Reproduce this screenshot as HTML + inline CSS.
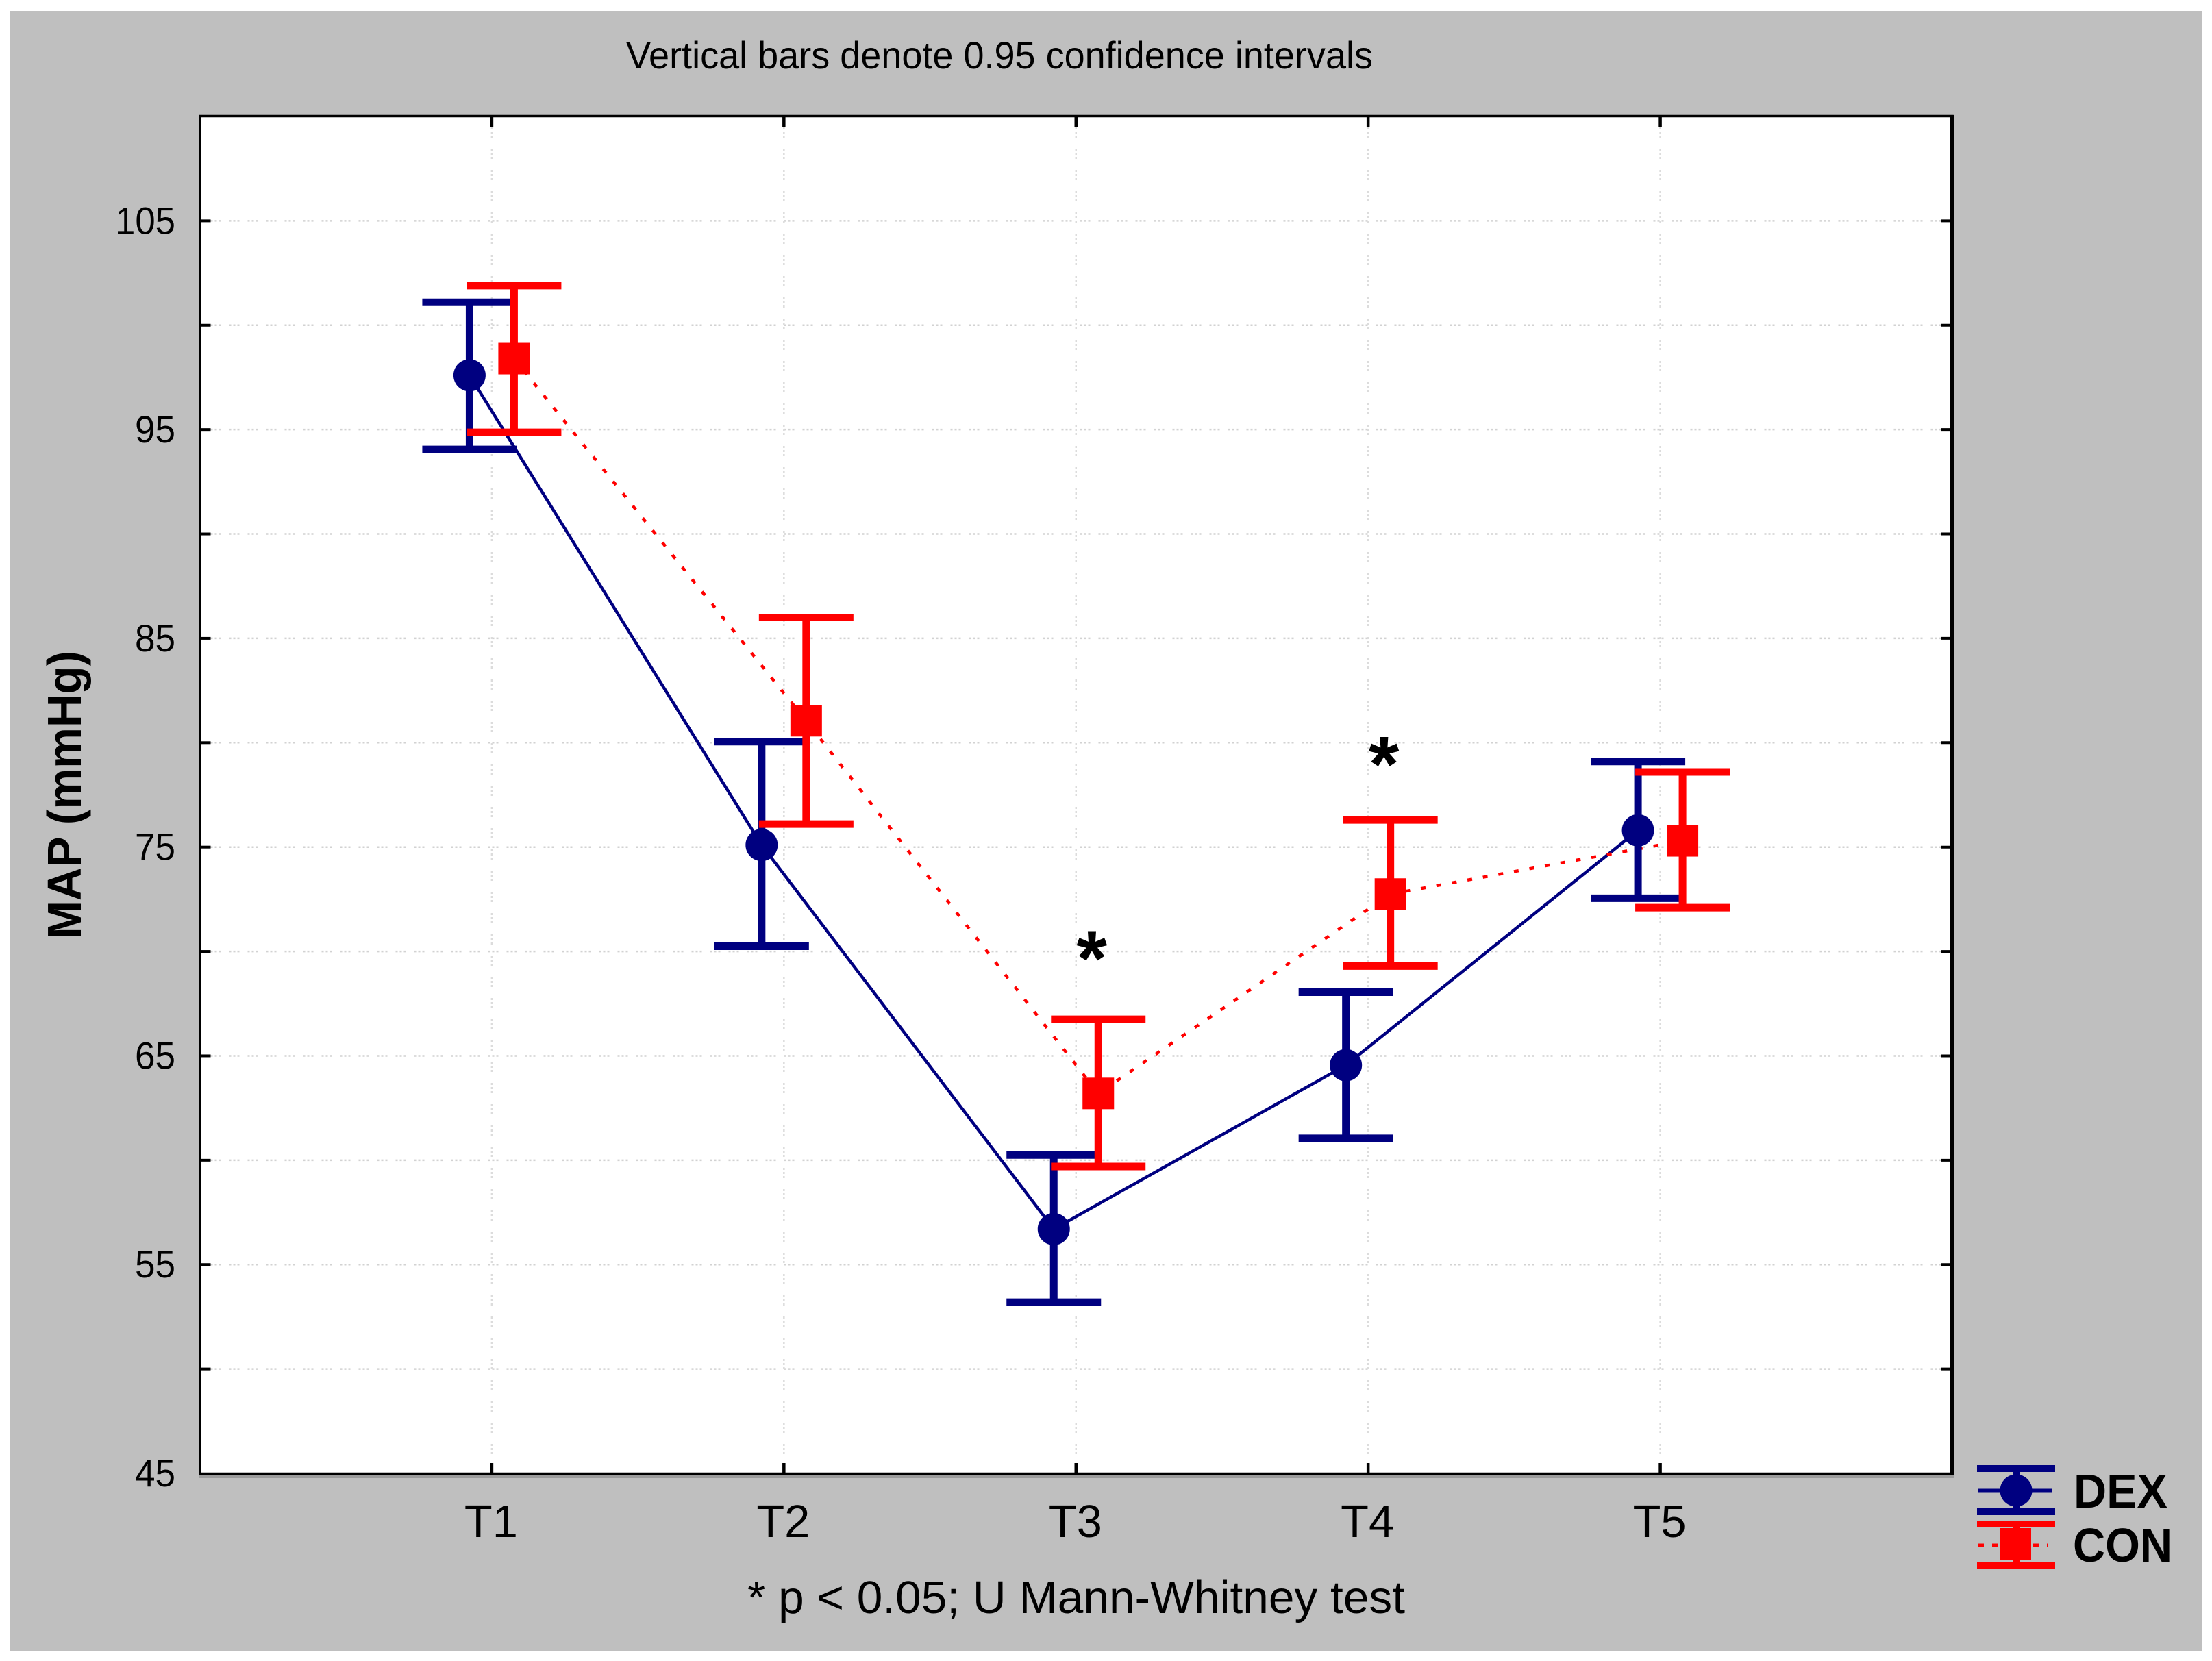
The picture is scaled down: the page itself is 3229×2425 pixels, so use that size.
<!DOCTYPE html>
<html lang="en">
<head>
<meta charset="utf-8">
<title>MAP (mmHg) over time, DEX vs CON</title>
<style>
html,body{margin:0;padding:0;background:#fff;}
svg{display:block;}
text{font-family:"Liberation Sans",Arial,sans-serif;fill:#000;}
</style>
</head>
<body>
<svg id="chart" xmlns="http://www.w3.org/2000/svg" width="3229" height="2425" viewBox="0 0 3229 2425">
  <rect x="0" y="0" width="3229" height="2425" fill="#ffffff"/>
  <rect x="14" y="16" width="3201" height="2395" fill="#bfbfbf"/>
  <rect x="291" y="2151" width="2562" height="7" fill="#9c9c9c"/>
  <rect x="292" y="170" width="2558" height="1982" fill="#ffffff"/>
  <g id="grid"></g>
  <g id="ticks"></g>
  <g id="series"></g>
  <rect x="292" y="169.500" width="2558" height="1982" fill="none" stroke="#000" stroke-width="3.5"/>
  <rect x="2847" y="168" width="6" height="1986" fill="#000"/>
  <text x="914" y="100" font-size="56" textLength="1090" lengthAdjust="spacingAndGlyphs">Vertical bars denote 0.95 confidence intervals</text>
  <text x="1091" y="2355" font-size="67" textLength="960" lengthAdjust="spacingAndGlyphs">* p &lt; 0.05; U Mann-Whitney test</text>
  <text transform="translate(118 1371) rotate(-90)" x="0" y="0" font-size="70" font-weight="700" textLength="421" lengthAdjust="spacingAndGlyphs">MAP (mmHg)</text>
  <g>
    <g>
      <rect x="2886" y="2139" width="114" height="10" fill="#000080"/>
      <rect x="2886" y="2202" width="114" height="10" fill="#000080"/>
      <rect x="2938" y="2149" width="11" height="53" fill="#000080"/>
      <rect x="2888" y="2173.500" width="107" height="5" fill="#000080"/>
      <circle cx="2943" cy="2176" r="23.500" fill="#000080"/>
      <text x="3027" y="2201" font-size="70" font-weight="700" textLength="137" lengthAdjust="spacingAndGlyphs">DEX</text>
    </g>
    <g>
      <rect x="2886" y="2220" width="114" height="9" fill="#ff0000"/>
      <rect x="2886" y="2281" width="114" height="10" fill="#ff0000"/>
      <rect x="2938" y="2229" width="11" height="52" fill="#ff0000"/>
      <line x1="2888" y1="2256" x2="2990" y2="2256" stroke="#ff0000" stroke-width="5" stroke-dasharray="8 12"/>
      <rect x="2919" y="2231" width="46" height="47" fill="#ff0000"/>
      <text x="3026" y="2280" font-size="70" font-weight="700" textLength="145" lengthAdjust="spacingAndGlyphs">CON</text>
    </g>
  </g>
</svg>
<script>
// ---- chart data ----
const categories = ["T1", "T2", "T3", "T4", "T5"];
const yTickLabels = [45, 55, 65, 75, 85, 95, 105];
const yGridValues = [50, 55, 60, 65, 70, 75, 80, 85, 90, 95, 100, 105];
const dexMean = [97.6, 75.1, 56.7, 64.55, 75.8];
const dexUpper = [101.1, 80.05, 60.25, 68.05, 79.1];
const dexLower = [94.05, 70.25, 53.2, 61.05, 72.55];
const conMean = [98.4, 81.05, 63.2, 72.75, 75.3];
const conUpper = [101.9, 86, 66.75, 76.3, 78.6];
const conLower = [94.87, 76.1, 59.7, 69.3, 72.1];
const starCategories = ["T3", "T4"];
const starValues = [70.2, 79.5];

// ---- axis functions ----
const NS = "http://www.w3.org/2000/svg";
const plotLeft = 291.5, plotRight = 2850, plotTop = 170, plotBottom = 2151;
const yMin = 45, yMax = 110;
function yScale(v) { return plotBottom - (v - yMin) / (yMax - yMin) * (plotBottom - plotTop); }
function xScale(i) { return plotLeft + (i + 1) * (plotRight - plotLeft) / (categories.length + 1); }

function make(tag, parent, props) {
  const el = document.createElementNS(NS, tag);
  for (const k in props) el.setAttribute(k, props[k]);
  parent.appendChild(el);
  return el;
}

const gridG = document.getElementById("grid");
const ticksG = document.getElementById("ticks");
const seriesG = document.getElementById("series");

// horizontal gridlines and y ticks
yGridValues.forEach(function (v) {
  const y = yScale(v);
  const g = make("line", gridG, { x1: plotLeft + 16, x2: plotRight - 16, y1: y, y2: y, stroke: "#d2d2d2", "stroke-width": 2.5, "stroke-dasharray": "3 3 3 3 3 12" });
  
  
  const l = make("line", ticksG, { x1: plotLeft, x2: plotLeft + 16, y1: y, y2: y, stroke: "#000", "stroke-width": 4 });
  
  
  const r = make("line", ticksG, { x1: plotRight - 17, x2: plotRight, y1: y, y2: y, stroke: "#000", "stroke-width": 4 });
  
  
});

// y tick labels
yTickLabels.forEach(function (v) {
  const t = make("text", ticksG, { x: 256, y: yScale(v) + 19, "font-size": 56, "text-anchor": "end", textLength: String(v).length === 3 ? 88 : 59, lengthAdjust: "spacingAndGlyphs" });
  t.textContent = v;
  
  
});

// vertical gridlines, x ticks, category labels
categories.forEach(function (c, i) {
  const x = xScale(i);
  const g = make("line", gridG, { x1: x, x2: x, y1: plotTop + 16, y2: plotBottom - 14, stroke: "#dcdcdc", "stroke-width": 2.5, "stroke-dasharray": "3 3 3 3 3 16" });
  
  
  const top = make("line", ticksG, { x1: x, x2: x, y1: plotTop, y2: plotTop + 16, stroke: "#000", "stroke-width": 4.5 });
  
  
  const bot = make("line", ticksG, { x1: x, x2: x, y1: plotBottom - 15, y2: plotBottom, stroke: "#000", "stroke-width": 4.5 });
  
  
  const t = make("text", ticksG, { x: x - 1, y: 2244, "font-size": 67, "text-anchor": "middle", textLength: 78, lengthAdjust: "spacingAndGlyphs" });
  t.textContent = c;
  
  
});

// series: lines, error bars, markers
const dexOffset = -32.5, conOffset = 32.5, capHalf = 69;

function pointsFor(means, offset) {
  return means.map(function (m, i) { return (xScale(i) + offset) + "," + yScale(m); }).join(" ");
}

const dexLine = make("polyline", seriesG, { points: pointsFor(dexMean, dexOffset), fill: "none", stroke: "#000080", "stroke-width": 4.5 });


const conLine = make("polyline", seriesG, { points: pointsFor(conMean, conOffset), fill: "none", stroke: "#ff0000", "stroke-width": 4.5, "stroke-dasharray": "7 16" });



dexMean.forEach(function (m, i) {
  const x = xScale(i) + dexOffset;
  const bar = make("line", seriesG, { x1: x, x2: x, y1: yScale(dexUpper[i]), y2: yScale(dexLower[i]), stroke: "#000080", "stroke-width": 11 });
  
  
  const capU = make("line", seriesG, { x1: x - capHalf, x2: x + capHalf, y1: yScale(dexUpper[i]), y2: yScale(dexUpper[i]), stroke: "#000080", "stroke-width": 11 });
  
  
  const capL = make("line", seriesG, { x1: x - capHalf, x2: x + capHalf, y1: yScale(dexLower[i]), y2: yScale(dexLower[i]), stroke: "#000080", "stroke-width": 11 });
  
  
  const dot = make("circle", seriesG, { cx: x, cy: yScale(m), r: 23.5, fill: "#000080" });
  
  
});

conMean.forEach(function (m, i) {
  const x = xScale(i) + conOffset;
  const bar = make("line", seriesG, { x1: x, x2: x, y1: yScale(conUpper[i]), y2: yScale(conLower[i]), stroke: "#ff0000", "stroke-width": 11 });
  
  
  const capU = make("line", seriesG, { x1: x - capHalf, x2: x + capHalf, y1: yScale(conUpper[i]), y2: yScale(conUpper[i]), stroke: "#ff0000", "stroke-width": 11 });
  
  
  const capL = make("line", seriesG, { x1: x - capHalf, x2: x + capHalf, y1: yScale(conLower[i]), y2: yScale(conLower[i]), stroke: "#ff0000", "stroke-width": 11 });
  
  
  const sq = make("rect", seriesG, { x: x - 23, y: yScale(m) - 23, width: 46, height: 46, fill: "#ff0000" });
  
  
});

// significance stars
starCategories.forEach(function (c, k) {
  const x = xScale(categories.indexOf(c)) + 23;
  const s = make("text", seriesG, { x: x, y: yScale(starValues[k]) + 56, "font-size": 115, "font-weight": 700, "text-anchor": "middle" });
  s.textContent = "*";
  
  
});
</script>
</body>
</html>
